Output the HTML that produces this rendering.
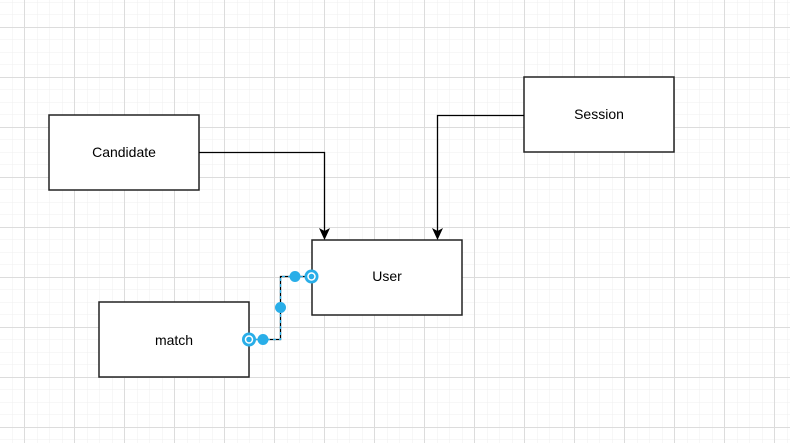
<!DOCTYPE html>
<html><head><style>
body{margin:0;background:#fff;}
svg{display:block;font-family:"Liberation Sans",sans-serif;}
</style></head><body>
<svg width="790" height="443" xmlns="http://www.w3.org/2000/svg">
<defs>
<pattern id="minor" x="-0.5" y="2" width="12.5" height="12.5" patternUnits="userSpaceOnUse">
<path d="M0 0H12.5M0 0V12.5" stroke="#efefef" stroke-width="1" fill="none"/>
</pattern>
<pattern id="major" x="24" y="27" width="50" height="50" patternUnits="userSpaceOnUse">
<path d="M0 0.5H50M0.5 0V50" stroke="#dcdcdc" stroke-width="1" fill="none"/>
</pattern>
</defs>
<rect width="790" height="443" fill="url(#minor)"/>
<rect width="790" height="443" fill="url(#major)"/>
<g fill="#fff" stroke="#222" stroke-width="1.5">
<rect x="49" y="115" width="150" height="75"/>
<rect x="524" y="77" width="150" height="75"/>
<rect x="312" y="240" width="150" height="75"/>
<rect x="99" y="302" width="150" height="75"/>
</g>
<g font-size="14" text-anchor="middle" fill="#000">
<text x="124" y="157">Candidate</text>
<text x="599" y="119">Session</text>
<text x="387" y="281">User</text>
<text x="174" y="345">match</text>
</g>
<g fill="none" stroke="#000" stroke-width="1.3">
<path d="M199 152.5H324.5V232"/>
<path d="M524 115.5H437.5V232"/>
<path d="M249 339.5H280.5V276.5H312"/>
</g>
<path d="M319 228 L324.5 240 L330 228 L324.5 231Z" fill="#000"/>
<path d="M432 228 L437.5 240 L443 228 L437.5 231Z" fill="#000"/>
<path d="M249 339.5H280.5V276.5H312" fill="none" stroke="#29aee8" stroke-width="1.3" stroke-dasharray="3 3"/>
<g fill="#29aee8">
<circle cx="263" cy="339.5" r="5.5"/>
<circle cx="280.5" cy="307.5" r="5.5"/>
<circle cx="295" cy="276.5" r="5.5"/>
<circle cx="249" cy="339.5" r="7"/>
<circle cx="311.5" cy="276.5" r="7"/>
</g>
<g fill="none" stroke="#fff" stroke-width="1.5">
<circle cx="249" cy="339.5" r="3.5"/>
<circle cx="311.5" cy="276.5" r="3.5"/>
</g>
</svg>
</body></html>
